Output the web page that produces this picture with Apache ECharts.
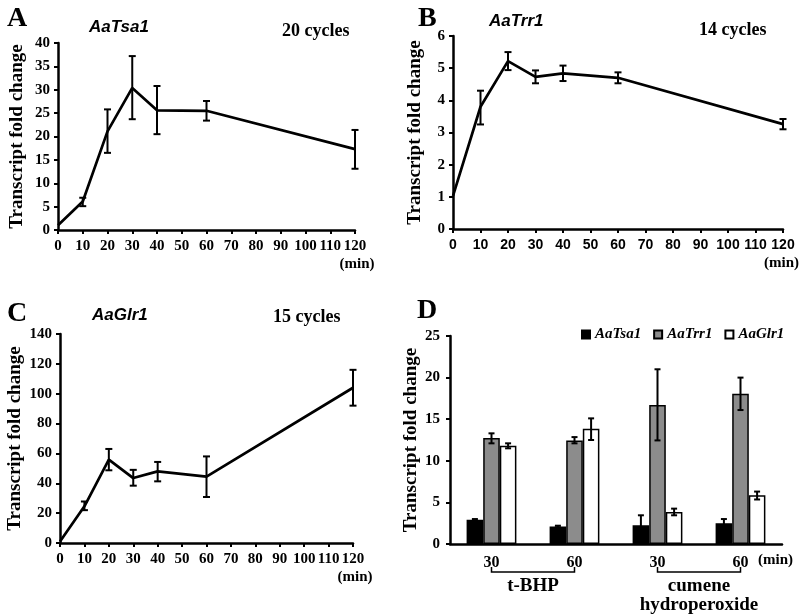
<!DOCTYPE html>
<html><head><meta charset="utf-8">
<script src="https://cdn.jsdelivr.net/npm/echarts@6/dist/echarts.min.js"></script>
<style>html,body{margin:0;padding:0;background:#fff}#c{width:800px;height:614px}</style>
</head><body><div id="c"></div>
<script>
// ---- data ----
const timeMin = [0, 10, 20, 30, 40, 60, 120];
const tsaMean = [1, 6.1, 21.1, 30.4, 25.6, 25.5, 17.3];
const tsaLow  = [1, 5.1, 16.5, 23.7, 20.5, 23.4, 13.1];
const tsaHigh = [1, 6.9, 25.8, 37.2, 30.8, 27.6, 21.4];
const trrMean = [1.03, 3.8, 5.22, 4.73, 4.84, 4.7, 3.26];
const trrLow  = [1.03, 3.25, 4.94, 4.53, 4.6, 4.53, 3.1];
const trrHigh = [1.03, 4.3, 5.5, 4.93, 5.08, 4.87, 3.42];
const glrMean = [1, 24.6, 55.8, 43.5, 48, 44.5, 104];
const glrLow  = [1, 22, 48.7, 38.4, 41.3, 30.8, 92];
const glrHigh = [1, 27.8, 63, 49, 54.3, 58, 116];

const dCategories = ['tBHP30', 'tBHP60', 'CHP30', 'CHP60'];
const dTickLabels = ['30', '60', '30', '60'];
const dGroupLabels = ['t-BHP', 'cumene\nhydroperoxide'];
const dSeriesNames = ['AaTsa1', 'AaTrr1', 'AaGlr1'];
const dTsa = [2.9, 2.1, 2.25, 2.5];
const dTsaLow = [2.8, 2.0, 1.0, 2.0];
const dTsaHigh = [3.0, 2.2, 3.45, 3.0];
const dTrr = [12.75, 12.45, 16.7, 18.05];
const dTrrLow = [12.1, 12.1, 12.45, 16.1];
const dTrrHigh = [13.3, 12.85, 21.0, 20.0];
const dGlr = [11.8, 13.85, 3.85, 5.85];
const dGlrLow = [11.5, 12.5, 3.45, 5.35];
const dGlrHigh = [12.1, 15.1, 4.25, 6.3];

const yTicksA = {min: 0, max: 40, interval: 5};
const yTicksB = {min: 0, max: 6, interval: 1};
const yTicksC = {min: 0, max: 140, interval: 20};
const yTicksD = {min: 0, max: 25, interval: 5};

// ---- styles ----
const SERIF = '"Liberation Serif", "Times New Roman", serif';
const SANS = '"Liberation Sans", Arial, sans-serif';
const chart = echarts.init(document.getElementById('c'), null, {renderer: 'canvas'});

function valueX(grid, labelFont, size) {
  return {
    type: 'value', gridIndex: grid, min: 0, max: 120, interval: 10,
    axisLine: {lineStyle: {color: '#000', width: 2.5}},
    axisTick: {show: true, inside: false, length: 4, lineStyle: {color: '#000', width: 2}},
    axisLabel: {color: '#000', fontFamily: labelFont, fontWeight: 'bold', fontSize: size, margin: 9},
    splitLine: {show: false}
  };
}
function valueY(grid, ticks, labelFont, gap, margin) {
  return Object.assign({
    type: 'value', gridIndex: grid,
    name: 'Transcript fold change', nameLocation: 'middle', nameRotate: 90, nameGap: gap,
    nameTextStyle: {color: '#000', fontFamily: SERIF, fontWeight: 'bold', fontSize: 19},
    axisLine: {show: true, lineStyle: {color: '#000', width: 2.5}},
    axisTick: {show: true, inside: false, length: 4, lineStyle: {color: '#000', width: 2}},
    axisLabel: {color: '#000', fontFamily: labelFont, fontWeight: 'bold', fontSize: 15, margin: margin},
    splitLine: {show: false}
  }, ticks);
}
function pairs(xs, ys) { return xs.map((x, i) => [x, ys[i]]); }
function errData(xs, lo, hi) { return xs.map((x, i) => [x, lo[i], hi[i]]); }

function errRender(capHalf, offsetIndex) {
  return function (params, api) {
    const x = api.value(0), lo = api.value(1), hi = api.value(2);
    if (hi - lo < 1e-9) return null;
    let p1 = api.coord([x, lo]), p2 = api.coord([x, hi]);
    if (offsetIndex !== undefined) {
      const band = api.size([1, 0])[0];
      const bw = band * 0.6 / 3;
      p1[0] += (offsetIndex - 1) * bw; p2[0] += (offsetIndex - 1) * bw;
    }
    const st = {stroke: '#000', lineWidth: 2};
    return {type: 'group', children: [
      {type: 'line', shape: {x1: p1[0], y1: p1[1], x2: p2[0], y2: p2[1]}, style: st},
      {type: 'line', shape: {x1: p1[0] - capHalf, y1: p1[1], x2: p1[0] + capHalf, y2: p1[1]}, style: st},
      {type: 'line', shape: {x1: p2[0] - capHalf, y1: p2[1], x2: p2[0] + capHalf, y2: p2[1]}, style: st}
    ]};
  };
}
function lineSeries(grid, ys) {
  return {type: 'line', xAxisIndex: grid, yAxisIndex: grid, data: pairs(timeMin, ys),
    showSymbol: false, symbol: 'none', lineStyle: {color: '#000', width: 2.7}, z: 3, silent: true};
}
function errSeries(grid, lo, hi) {
  return {type: 'custom', xAxisIndex: grid, yAxisIndex: grid, data: errData(timeMin, lo, hi),
    renderItem: errRender(3.5), z: 4, silent: true};
}
function barErr(idx, lo, hi) {
  return {type: 'custom', xAxisIndex: 3, yAxisIndex: 3,
    data: dCategories.map((c, i) => [i, lo[i], hi[i]]),
    renderItem: errRender(3, idx), z: 5, silent: true};
}

const titleBold = {color: '#000', fontFamily: SERIF, fontWeight: 'bold'};
const geneStyle = {color: '#000', fontFamily: SANS, fontWeight: 'bold', fontStyle: 'italic', fontSize: 17};

const option = {
  animation: false,
  backgroundColor: '#fff',
  title: [
    {text: 'A', left: 2, top: 0, textStyle: Object.assign({fontSize: 28}, titleBold)},
    {text: 'AaTsa1', left: 84, top: 14, textStyle: geneStyle},
    {text: '20 cycles', left: 277, top: 17, textStyle: Object.assign({fontSize: 18}, titleBold)},
    {text: 'B', left: 413, top: 0, textStyle: Object.assign({fontSize: 28}, titleBold)},
    {text: 'AaTrr1', left: 484, top: 8, textStyle: geneStyle},
    {text: '14 cycles', left: 694, top: 16, textStyle: Object.assign({fontSize: 18}, titleBold)},
    {text: 'C', left: 2, top: 295, textStyle: Object.assign({fontSize: 28}, titleBold)},
    {text: 'AaGlr1', left: 87, top: 302, textStyle: geneStyle},
    {text: '15 cycles', left: 268, top: 303, textStyle: Object.assign({fontSize: 18}, titleBold)},
    {text: 'D', left: 412, top: 292, textStyle: Object.assign({fontSize: 28}, titleBold)}
  ],
  legend: {
    left: 581, top: 327, itemWidth: 8, itemHeight: 8, itemGap: 12, padding: 0, icon: 'rect',
    data: dSeriesNames,
    textStyle: {color: '#000', fontFamily: SERIF, fontWeight: 'bold', fontStyle: 'italic', fontSize: 15}
  },
  grid: [
    {left: 58, top: 43, width: 297, height: 187},
    {left: 453, top: 36, width: 330, height: 193},
    {left: 60, top: 334, width: 293, height: 209},
    {left: 450, top: 336, width: 332, height: 208}
  ],
  xAxis: [
    valueX(0, SERIF, 15),
    valueX(1, SANS, 14),
    valueX(2, SERIF, 15),
    {type: 'category', gridIndex: 3, data: dCategories,
      axisLine: {lineStyle: {color: '#000', width: 2.5}},
      axisTick: {show: false},
      axisLabel: {color: '#000', fontFamily: SERIF, fontWeight: 'bold', fontSize: 16, margin: 11,
        formatter: (v, i) => dTickLabels[i]}}
  ],
  yAxis: [
    valueY(0, yTicksA, SERIF, 31, 8),
    valueY(1, yTicksB, SERIF, 28, 8),
    valueY(2, yTicksC, SERIF, 35, 8),
    valueY(3, yTicksD, SERIF, 29, 10)
  ],
  series: [
    lineSeries(0, tsaMean), errSeries(0, tsaLow, tsaHigh),
    lineSeries(1, trrMean), errSeries(1, trrLow, trrHigh),
    lineSeries(2, glrMean), errSeries(2, glrLow, glrHigh),
    {name: dSeriesNames[0], type: 'bar', xAxisIndex: 3, yAxisIndex: 3, data: dTsa, barGap: '0%', barCategoryGap: '40%',
      itemStyle: {color: '#000', borderColor: '#000', borderWidth: 1.5}},
    {name: dSeriesNames[1], type: 'bar', xAxisIndex: 3, yAxisIndex: 3, data: dTrr, barGap: '0%', barCategoryGap: '40%',
      itemStyle: {color: '#8c8c8c', borderColor: '#000', borderWidth: 1.5}},
    {name: dSeriesNames[2], type: 'bar', xAxisIndex: 3, yAxisIndex: 3, data: dGlr, barGap: '0%', barCategoryGap: '40%',
      itemStyle: {color: '#fff', borderColor: '#000', borderWidth: 1.5}},
    barErr(0, dTsaLow, dTsaHigh), barErr(1, dTrrLow, dTrrHigh), barErr(2, dGlrLow, dGlrHigh)
  ]
};
chart.setOption(option);

// annotations placed from the axes' own scales
const minStyle = {fill: '#000', font: 'bold 15px ' + SERIF};
const gfx = [];
[[0, 120], [1, 120], [2, 120]].forEach(([g, x]) => {
  const p = chart.convertToPixel({gridIndex: g}, [x, 0]);
  const st = g === 1 ? {text: '(min)', align: 'right'} : {text: '(min)', align: 'center'};
  gfx.push({type: 'text', x: g === 1 ? 799 : p[0] + 2, y: p[1] + 27, style: Object.assign(st, minStyle)});
});
const pEnd = chart.convertToPixel({gridIndex: 3}, [3, 0]);
gfx.push({type: 'text', x: pEnd[0] + 35, y: pEnd[1] + 9, style: Object.assign({text: '(min)', align: 'center'}, minStyle)});
[[0, 1, 0], [2, 3, 1]].forEach(([a, b, k]) => {
  const pa = chart.convertToPixel({gridIndex: 3}, [a, 0]);
  const pb = chart.convertToPixel({gridIndex: 3}, [b, 0]);
  const yb = pa[1] + 28;
  gfx.push({type: 'polyline', shape: {points: [[pa[0], yb - 5], [pa[0], yb], [pb[0], yb], [pb[0], yb - 5]]},
    style: {stroke: '#000', lineWidth: 1.5, fill: null}});
  gfx.push({type: 'text', x: (pa[0] + pb[0]) / 2, y: yb + 5,
    style: {text: dGroupLabels[k], align: 'center', fill: '#000', font: 'bold 19px ' + SERIF, lineHeight: 19}});
});
chart.setOption({graphic: gfx});
</script></body></html>
